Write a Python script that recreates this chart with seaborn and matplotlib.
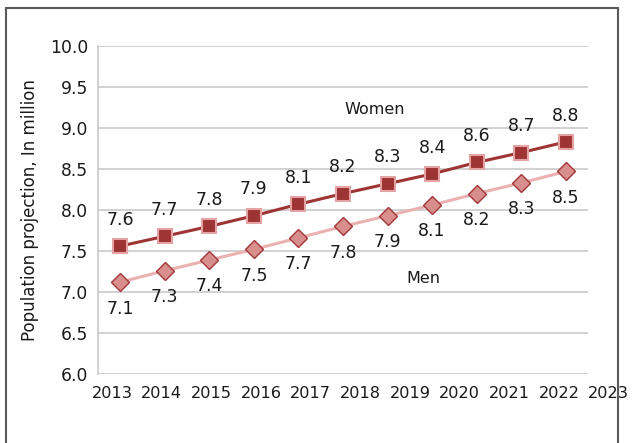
import matplotlib
matplotlib.use("Agg")
import numpy as np
import pandas as pd
import matplotlib.pyplot as plt
import matplotlib.patches as mpatches
import seaborn as sns

# Data
years = list(range(2013, 2023))
year_labels = [str(y) for y in range(2013, 2024)]
women = [7.56, 7.68, 7.80, 7.93, 8.07, 8.20, 8.32, 8.44, 8.58, 8.70, 8.83]
men = [7.12, 7.26, 7.39, 7.52, 7.66, 7.80, 7.93, 8.06, 8.20, 8.33, 8.47]
positions = list(range(len(women)))

# Colours
women_line = "#9E3434"
women_edge = "#E6A3A3"
men_line = "#EBB0B0"
men_fill = "#D98E8E"
men_edge = "#A23636"
grid_col = "#C9C9C9"
text_col = "#1A1A1A"

sns.set_style("white")
plt.rcParams['font.family'] = ['DejaVu Sans']

df = pd.DataFrame({'pos': positions, 'Women': women, 'Men': men})

fig = plt.figure(figsize=(6.33, 4.43), dpi=100)
ax = fig.add_axes([98 / 633, 1 - 374 / 443, 490 / 633, 328 / 443])

sns.lineplot(data=df, x='pos', y='Women', ax=ax, color=women_line, lw=2.2,
             marker='s', markersize=10.5, markerfacecolor=women_line,
             markeredgecolor=women_edge, markeredgewidth=1.5, zorder=4)
sns.lineplot(data=df, x='pos', y='Men', ax=ax, color=men_line, lw=2.2,
             marker='D', markersize=9, markerfacecolor=men_fill,
             markeredgecolor=men_edge, markeredgewidth=1.0, zorder=3)

# Data labels
for x, v in zip(positions, women):
    ax.annotate(f"{v:.1f}", (x, v), xytext=(0, 19), textcoords='offset points',
                ha='center', va='center', fontsize=12.5, color=text_col)
for x, v in zip(positions, men):
    ax.annotate(f"{v:.1f}", (x, v), xytext=(0, -19), textcoords='offset points',
                ha='center', va='center', fontsize=12.5, color=text_col)

# Series names
ax.text(5.72, 9.23, "Women", ha='center', va='center', fontsize=11.5, color=text_col)
ax.text(6.8, 7.17, "Men", ha='center', va='center', fontsize=11.5, color=text_col)

# Axes styling
ax.set_xlim(-0.5, len(women) - 0.5)
ax.set_ylim(6.0, 10.0)
ax.set_yticks(np.arange(6.0, 10.01, 0.5))
ax.set_yticklabels([f"{t:.1f}" for t in np.arange(6.0, 10.01, 0.5)])
ax.tick_params(axis='y', length=0, pad=7, labelsize=12.3, labelcolor=text_col)
ax.set_xticks([])
ax.set_xlabel("")
ax.set_ylabel("Population projection, In million", fontsize=12, color=text_col, labelpad=8)
ax.grid(axis='y', color=grid_col, lw=1.2)
ax.set_axisbelow(True)
for side in ['top', 'right', 'bottom']:
    ax.spines[side].set_visible(False)
ax.spines['left'].set_color(grid_col)
ax.spines['left'].set_linewidth(1.2)

# Year labels (spaced wider than the categories, as in the original)
for i, lab in enumerate(year_labels):
    ax.text(0.0286 + i * 0.1014, -0.058, lab, transform=ax.transAxes,
            ha='center', va='center', fontsize=11.6, color=text_col, clip_on=False)

# Outer frame
frame = mpatches.Rectangle((6 / 633, -0.2), (618 - 6) / 633, 1.2 - 8 / 443,
                           transform=fig.transFigure, fill=False,
                           edgecolor="#5A5A5A", lw=1.5, zorder=10)
fig.patches.append(frame)

fig.savefig("out.png", dpi=100)
